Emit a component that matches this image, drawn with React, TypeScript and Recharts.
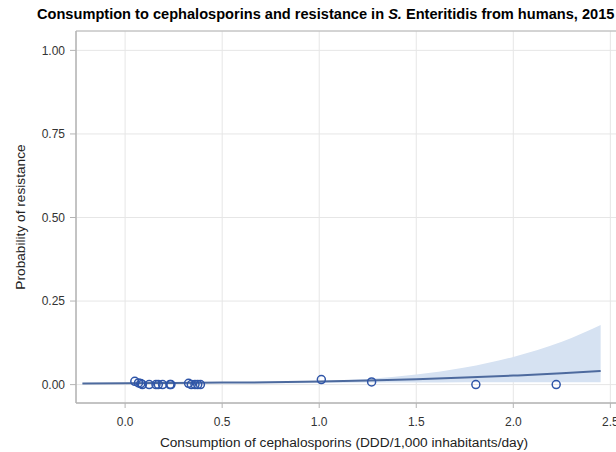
import React from "react";
import {
  ComposedChart,
  Area,
  Line,
  Scatter,
  XAxis,
  YAxis,
  CartesianGrid,
  ReferenceArea,
} from "recharts";

// fitted logistic curve and its confidence band
const curveX = [-0.22, 0, 0.25, 0.5, 0.75, 1.0, 1.25, 1.5, 1.75, 2.0, 2.25, 2.45];
const curveFit = [0.003, 0.004, 0.005, 0.006, 0.007, 0.009, 0.012, 0.016, 0.021, 0.027, 0.034, 0.041];
const bandUpper = [0.004, 0.005, 0.006, 0.007, 0.009, 0.011, 0.017, 0.03, 0.051, 0.083, 0.128, 0.178];
const bandLower = [0.002, 0.002, 0.003, 0.004, 0.004, 0.005, 0.006, 0.006, 0.007, 0.007, 0.007, 0.007];

// observed countries
const pointX = [0.05, 0.069, 0.081, 0.089, 0.124, 0.159, 0.171, 0.193, 0.231, 0.236, 0.327, 0.341, 0.36, 0.374, 0.388, 1.011, 1.27, 1.807, 2.221];
const pointY = [0.01, 0.005, 0.003, 0, 0, 0, 0, 0, 0, 0, 0.004, 0, 0, 0, 0, 0.015, 0.008, 0, 0];

const xTicks = [0, 0.5, 1.0, 1.5, 2.0, 2.5];
const yTicks = [0, 0.25, 0.5, 0.75, 1.0];

const X_MIN = -0.253;
const X_MAX = 2.56;
const Y_MIN = -0.055;
const Y_MAX = 1.058;

const FONT = "'Liberation Sans', Arial, sans-serif";

const curveData = curveX.map((x, i) => ({
  x,
  fit: curveFit[i],
  band: [bandLower[i], bandUpper[i]],
}));

const pointData = pointX.map((x, i) => ({ x, y: pointY[i] }));

const OpenCircle = (props: any) => (
  <circle cx={props.cx} cy={props.cy} r={4} fill="none" stroke="#2f55a8" strokeWidth={1.5} />
);

export default function App() {
  return (
    <div
      style={{
        position: "fixed",
        left: 0,
        top: 0,
        width: 616,
        height: 452,
        overflow: "hidden",
        background: "#fff",
        fontFamily: FONT,
      }}
    >
      <div
        style={{
          position: "absolute",
          left: 37,
          top: 6,
          fontSize: 14.6,
          lineHeight: "17px",
          fontWeight: "bold",
          whiteSpace: "nowrap",
          color: "#000",
        }}
      >
        Consumption to cephalosporins and resistance in <i>S.</i> Enteritidis from humans, 2015
      </div>
      <ComposedChart
        width={640}
        height={452}
        data={curveData}
        margin={{ top: 31, right: 18, left: 0, bottom: 0 }}
      >
        <CartesianGrid stroke="#e6e6e6" />
        <ReferenceArea
          x1={X_MIN}
          x2={X_MAX}
          y1={Y_MIN}
          y2={Y_MAX}
          fill="none"
          stroke="#b4b4b4"
          fillOpacity={0}
        />
        <XAxis
          dataKey="x"
          type="number"
          domain={[X_MIN, X_MAX]}
          ticks={xTicks}
          allowDataOverflow
          height={49}
          tickSize={5}
          tickMargin={9}
          stroke="#b4b4b4"
          tick={{ fill: "#333", fontSize: 12, fontFamily: FONT }}
          tickFormatter={(v: number) => v.toFixed(1)}
          label={{
            content: () => (
              <text x={344} y={447} textAnchor="middle" fontSize={13.7} fill="#222" fontFamily={FONT}>
                Consumption of cephalosporins (DDD/1,000 inhabitants/day)
              </text>
            ),
          }}
        />
        <YAxis
          type="number"
          domain={[Y_MIN, Y_MAX]}
          ticks={yTicks}
          allowDataOverflow
          width={76}
          tickSize={6}
          tickMargin={5}
          stroke="#b4b4b4"
          tick={{ fill: "#333", fontSize: 12, fontFamily: FONT }}
          tickFormatter={(v: number) => v.toFixed(2)}
          label={{
            content: () => (
              <text
                x={20}
                y={217}
                transform="rotate(-90 20 217)"
                textAnchor="middle"
                dominantBaseline="central"
                fontSize={13.7}
                fill="#222"
                fontFamily={FONT}
              >
                Probability of resistance
              </text>
            ),
          }}
        />
        <Area
          type="monotone"
          dataKey="band"
          stroke="none"
          fill="#d6e2f2"
          fillOpacity={1}
          isAnimationActive={false}
        />
        <Line
          type="monotone"
          dataKey="fit"
          stroke="#4d6a9e"
          strokeWidth={2}
          dot={false}
          isAnimationActive={false}
        />
        <Scatter
          data={pointData}
          dataKey="y"
          shape={OpenCircle}
          isAnimationActive={false}
        />
      </ComposedChart>
    </div>
  );
}
